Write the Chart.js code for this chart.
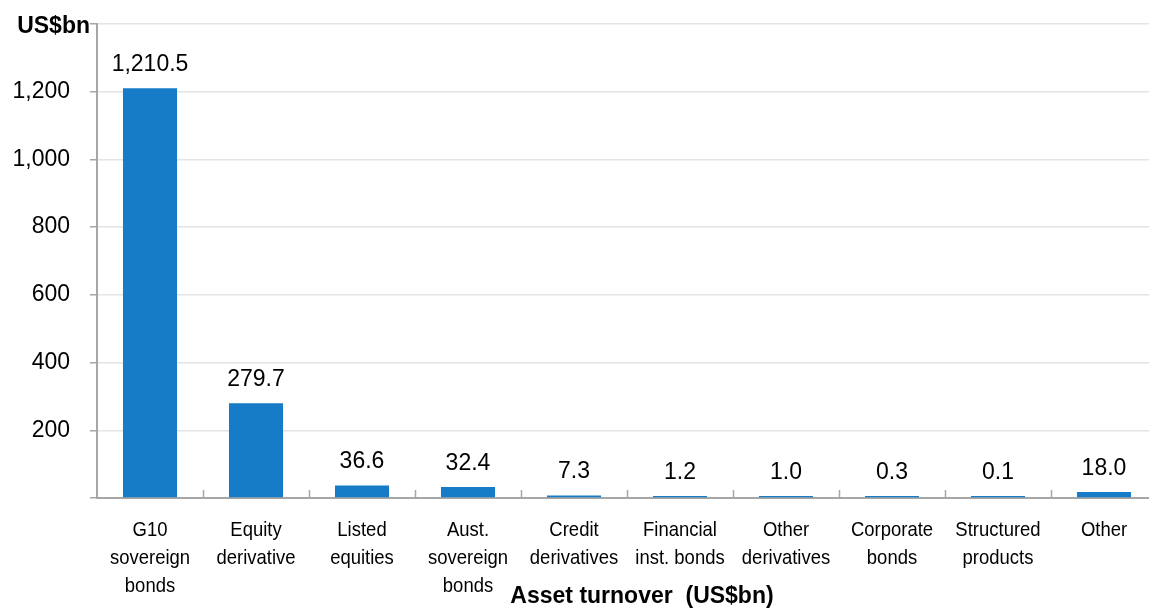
<!DOCTYPE html>
<html>
<head>
<meta charset="utf-8">
<script src="https://cdn.jsdelivr.net/npm/chart.js@4/dist/chart.umd.min.js"></script>
<style>
  html, body { margin: 0; padding: 0; background: #fff; overflow: hidden; }
  #wrap { width: 1149px; height: 608px; overflow: hidden; }
</style>
</head>
<body>
<div id="wrap"><canvas id="turnover" width="1157" height="608"></canvas></div>
<script>
/* global Chart */

const categories = [
  ["G10", "sovereign", "bonds"],
  ["Equity", "derivative"],
  ["Listed", "equities"],
  ["Aust.", "sovereign", "bonds"],
  ["Credit", "derivatives"],
  ["Financial", "inst. bonds"],
  ["Other", "derivatives"],
  ["Corporate", "bonds"],
  ["Structured", "products"],
  ["Other"],
];
const turnover = [1210.5, 279.7, 36.6, 32.4, 7.3, 1.2, 1.0, 0.3, 0.1, 18.0];
const yTicks = [200, 400, 600, 800, 1000, 1200];

const BAR = "#167cc7";
const AXIS = "#a6a6a6";
const GRID = "#e4e4e4";
const FONT = "'Liberation Sans', Arial, sans-serif";

// value labels above each bar
const valueLabels = {
  id: "valueLabels",
  afterDatasetsDraw(chart) {
    const { ctx } = chart;
    const meta = chart.getDatasetMeta(0);
    ctx.save();
    ctx.font = "23px " + FONT;
    ctx.fillStyle = "#000";
    ctx.textAlign = "center";
    ctx.textBaseline = "bottom";
    meta.data.forEach((bar, i) => {
      ctx.fillText(turnover[i].toLocaleString("en-US", { minimumFractionDigits: 1, maximumFractionDigits: 1 }), bar.x, bar.y - 12);
    });
    ctx.restore();
  },
};

// category names in a condensed face, short marks between categories,
// units title and axis caption
const axisExtras = {
  id: "axisExtras",
  afterDraw(chart) {
    const { ctx, chartArea } = chart;
    const x = chart.scales.x;
    const step = (x.right - x.left) / categories.length;
    ctx.save();
    ctx.strokeStyle = AXIS;
    ctx.lineWidth = 1.5;
    for (let i = 1; i < categories.length; i++) {
      const px = Math.round(x.left + i * step) + 0.5;
      ctx.beginPath();
      ctx.moveTo(px, chartArea.bottom);
      ctx.lineTo(px, chartArea.bottom - 8);
      ctx.stroke();
    }

    ctx.fillStyle = "#000";
    ctx.font = "21px " + FONT;
    ctx.textAlign = "center";
    ctx.textBaseline = "middle";
    categories.forEach((lines, i) => {
      const cx = x.getPixelForValue(i);
      lines.forEach((line, k) => {
        ctx.save();
        ctx.translate(cx, chartArea.bottom + 32 + k * 28);
        ctx.scale(0.88, 1);
        ctx.fillText(line, 0, 0);
        ctx.restore();
      });
    });

    ctx.font = "bold 23px " + FONT;
    ctx.textAlign = "right";
    ctx.fillText("US$bn", chartArea.left - 7, chartArea.top + 3);
    ctx.textAlign = "center";
    ctx.fillText("Asset turnover  (US$bn)", 642, 597);
    ctx.restore();
  },
};

new Chart(document.getElementById("turnover"), {
  type: "bar",
  data: {
    labels: categories,
    datasets: [{
      data: turnover,
      backgroundColor: BAR,
      barPercentage: 0.51,
      categoryPercentage: 1,
      minBarLength: 2,
    }],
  },
  options: {
    responsive: false,
    animation: false,
    layout: { padding: { top: 24, right: 0, left: 0, bottom: 0 } },
    plugins: { legend: { display: false }, tooltip: { enabled: false } },
    scales: {
      x: {
        grid: { display: false },
        border: { color: AXIS, width: 2 },
        ticks: { display: false },
        afterFit(s) { s.height = 110; },
      },
      y: {
        min: 0,
        max: 1400,
        afterBuildTicks(s) {
          s.ticks = [0, ...yTicks, 1400].map((v) => ({ value: v }));
        },
        grid: { color: GRID, lineWidth: 1.5, tickColor: AXIS, tickLength: 7 },
        border: { color: AXIS, width: 2 },
        ticks: {
          color: "#000",
          padding: 20,
          font: { family: FONT, size: 23 },
          callback: (v) => (yTicks.includes(v) ? v.toLocaleString("en-US") : ""),
        },
        afterFit(s) {
          s.width = 97;
          s.paddingTop = 0;
          s.paddingBottom = 0;
        },
      },
    },
  },
  plugins: [valueLabels, axisExtras],
});
</script>
</body>
</html>
